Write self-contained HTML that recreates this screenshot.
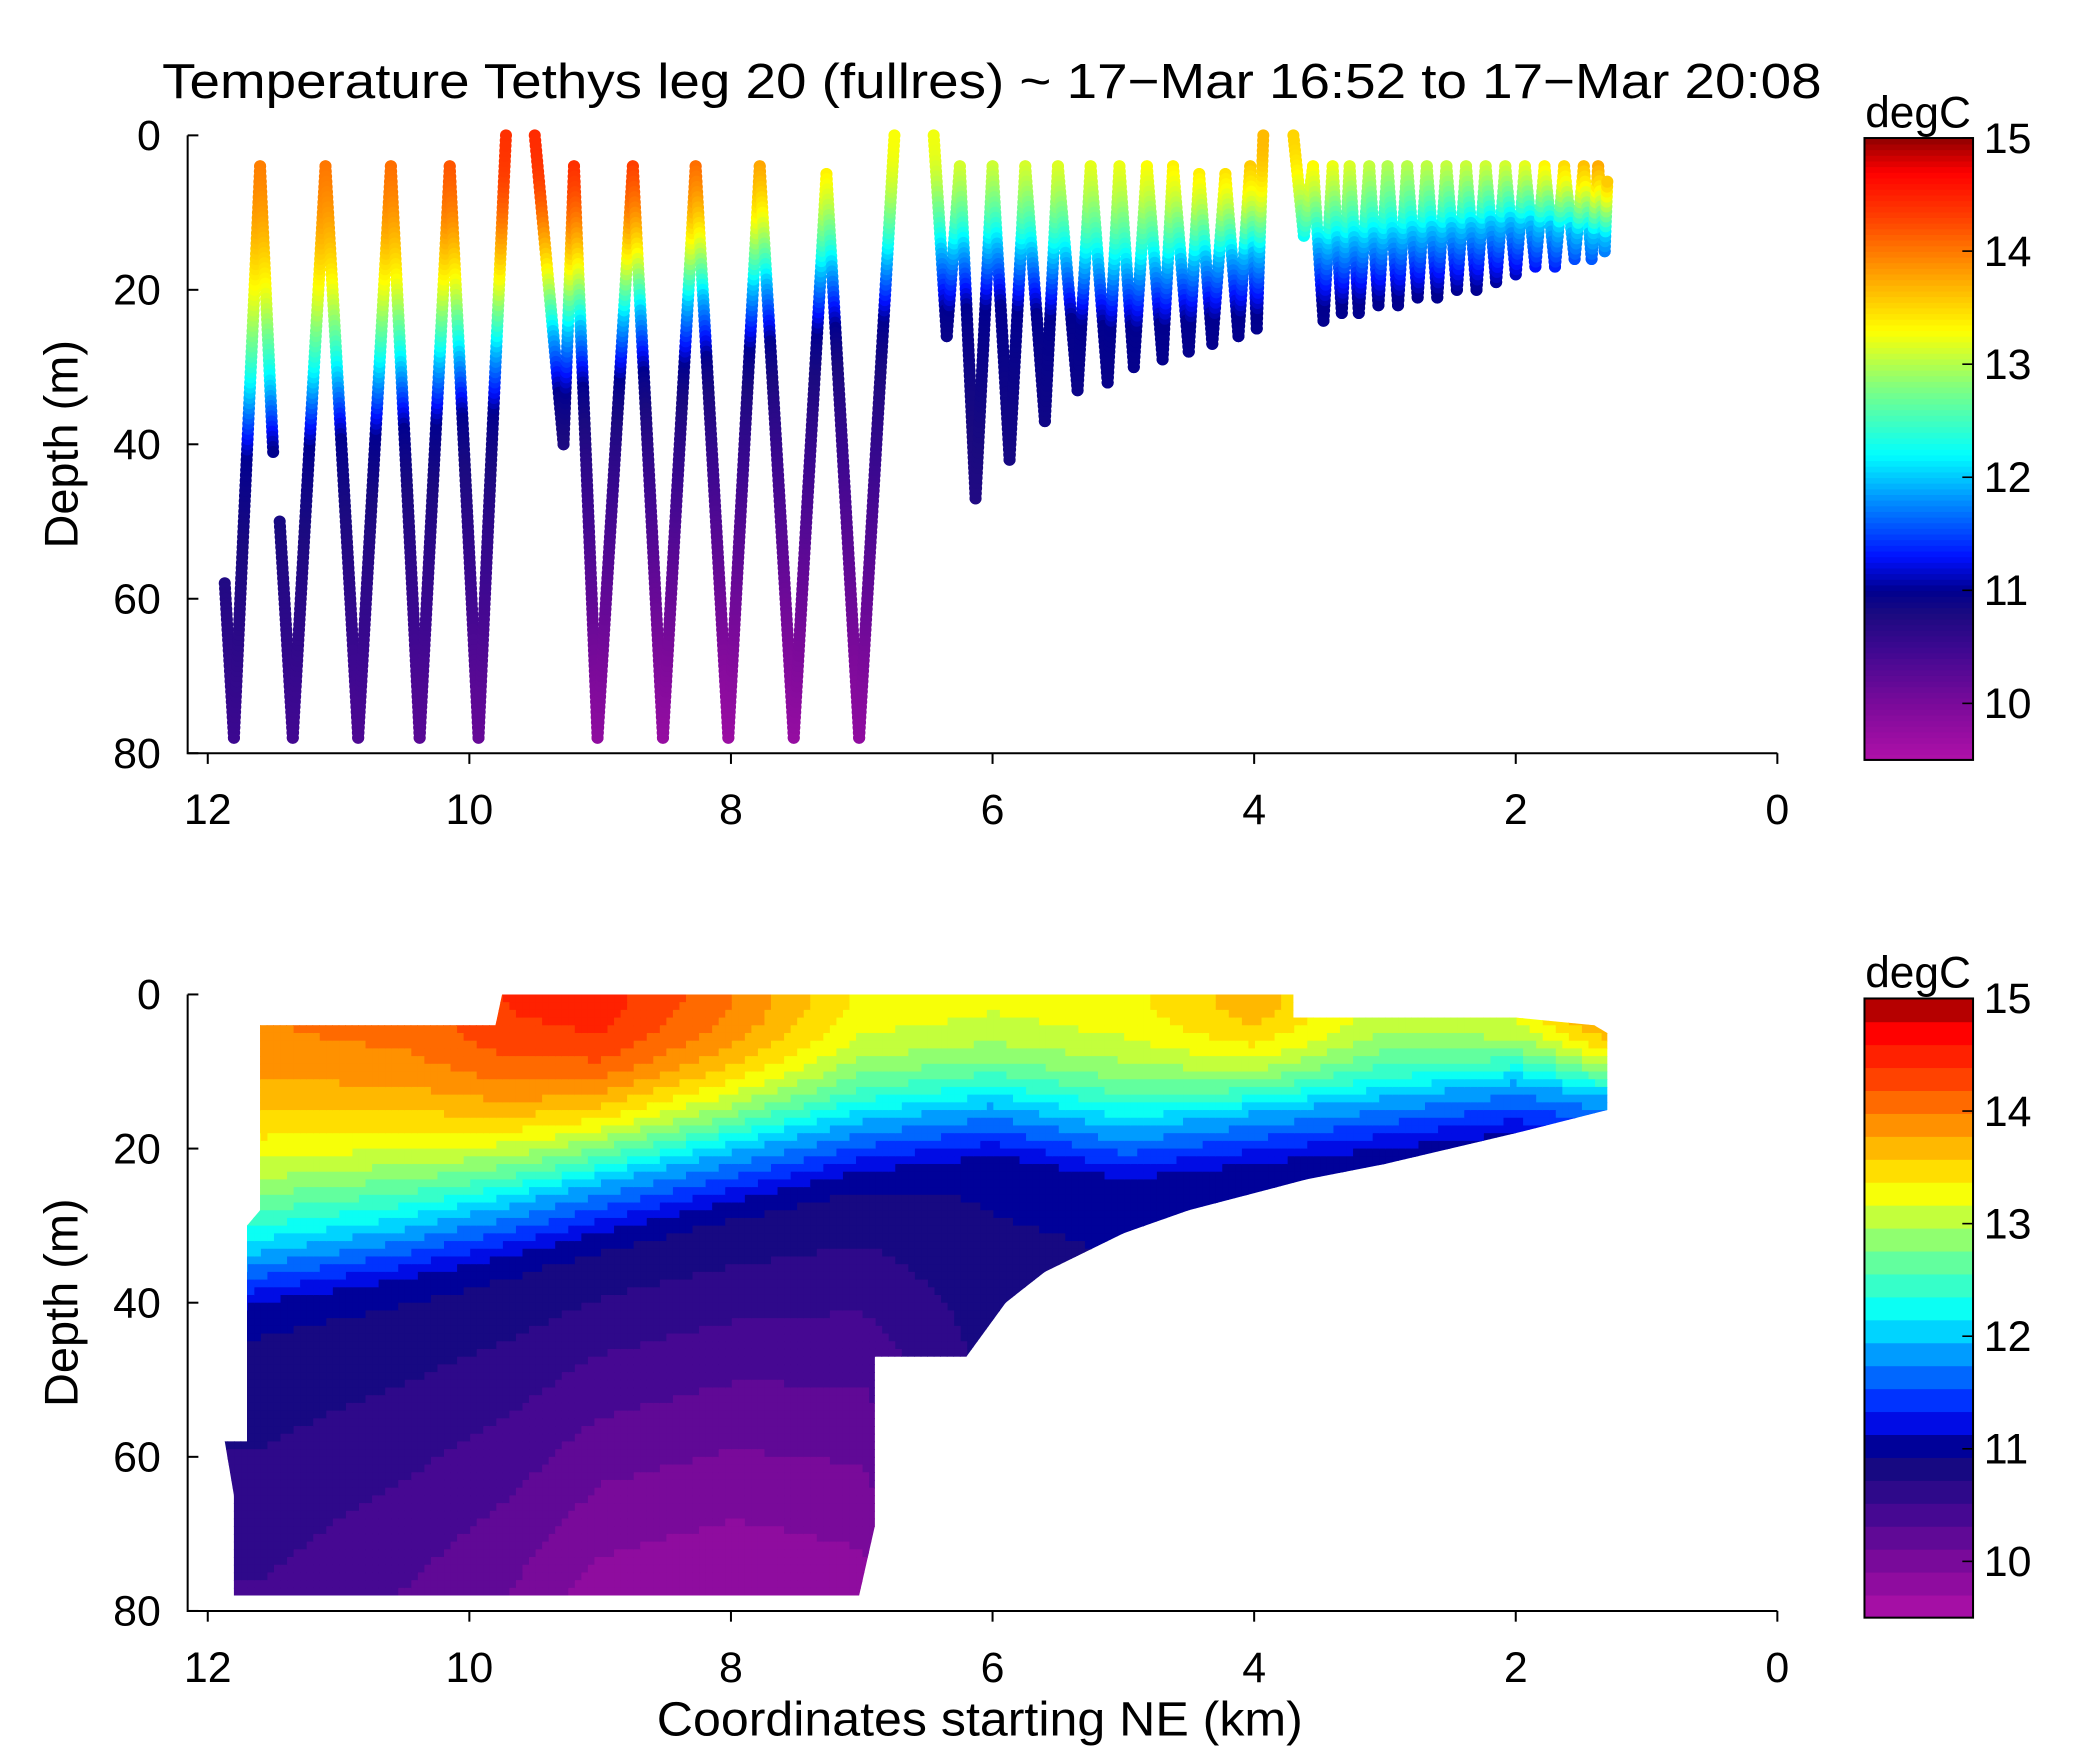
<!DOCTYPE html>
<html><head><meta charset="utf-8"><style>
html,body{margin:0;padding:0;background:#fff}
svg{display:block;font-family:"Liberation Sans",sans-serif}
</style></head><body>
<svg id="fig" width="2091" height="1749" viewBox="0 0 1560 1305" preserveAspectRatio="none">
<defs>
<clipPath id="maskClip"><polygon id="maskPoly"/></clipPath>
</defs>
<text x="740" y="73" font-size="37" text-anchor="middle" textLength="1238" lengthAdjust="spacingAndGlyphs">Temperature Tethys leg 20 (fullres) ~ 17−Mar 16:52 to 17−Mar 20:08</text>
<g id="topPanel"></g>
<g id="botPanel"></g>
<text x="731" y="1295" font-size="36" text-anchor="middle" textLength="482" lengthAdjust="spacingAndGlyphs">Coordinates starting NE (km)</text>
</svg>
<script>
// ---- data ----
const profX=[11.87,11.8,11.6,11.5,null,11.45,11.35,11.1,10.85,10.6,10.38,10.15,9.93,9.72,null,9.5,9.28,9.2,9.02,8.75,8.52,8.27,8.02,7.78,7.52,7.27,7.02,6.75,null,6.45,6.35,6.25,6.13,6.0,5.87,5.75,5.6,5.5,5.35,5.25,5.12,5.03,4.92,4.82,4.7,4.62,4.5,4.42,4.32,4.22,4.12,4.03,3.98,3.93,null,3.7,3.62,3.55,3.47,3.4,3.33,3.27,3.2,3.12,3.05,2.98,2.9,2.83,2.75,2.68,2.6,2.53,2.45,2.38,2.3,2.23,2.15,2.08,2.0,1.93,1.85,1.78,1.7,1.63,1.55,1.48,1.42,1.37,1.32,1.3];
const profD=[58,78,4,41,null,50,78,4,78,4,78,4,78,0,null,0,40,4,78,4,78,4,78,4,78,5,78,0,null,0,26,4,47,4,42,4,37,4,33,4,32,4,30,4,29,4,28,5,27,5,26,4,25,0,null,0,13,4,24,4,23,4,23,4,22,4,22,4,21,4,21,4,20,4,20,4,19,4,18,4,17,4,17,4,16,4,16,4,15,6];
// temperature model arrays
const modelX=[11.8,11.6,10.5,9.7,9,8,7,6,5,4,3,2,1.3];
const surfT=[13.9,14.0,14.1,14.4,14.5,14.0,13.3,13.2,13.3,13.7,13.1,13.3,14.0];
const thermoD=[34,33,30,27,24,20,16,14,17,15,13,11,13];
const deepT=[10.5,10.5,10.3,10.1,9.8,9.7,9.8,10.6,10.7,10.7,10.7,10.7,10.7];
const maskX=[11.6,9.8,9.75,3.7,3.7,2.0,1.4,1.3,1.3,2.0,3.0,3.6,4.5,5.0,5.6,5.9,6.2,6.9,6.9,7.02,11.8,11.8,11.87,11.7,11.7,11.6];
const maskD=[4,4,0,0,3,3,4,5,15,18,22,24,28,31,36,40,47,47,69,78,78,65,58,58,30,28];
const cbVals=[9.5,10,10.5,10.8,11,11.3,11.8,12.2,12.8,13.3,13.8,14.3,14.7,15];
const cbCols=["#b010a8","#7a0a9a","#3c0890","#1a0a80","#00008f","#0010ff","#0090ff","#00ffff","#80ff80","#ffff00","#ffa000","#ff4000","#ff0000","#900000"];
const xTicks=[12,10,8,6,4,2,0];
const yTicks=[0,20,40,60,80];
const cTicks=[10,11,12,13,14,15];
// ---- helpers ----
const NS="http://www.w3.org/2000/svg";
function mk(t,a,p){const e=document.createElementNS(NS,t);for(const k in a)e.setAttribute(k,a[k]);p.appendChild(e);return e;}
function interp(xs,ys,x){if(x>=xs[0])return ys[0];for(let i=1;i<xs.length;i++){if(x>=xs[i]){const t=(x-xs[i-1])/(xs[i]-xs[i-1]);return ys[i-1]+t*(ys[i]-ys[i-1]);}}return ys[ys.length-1];}
function temp(x,d){const s=interp(modelX,surfT,x),th=interp(modelX,thermoD,x),dp=interp(modelX,deepT,x);
 if(d<=th){const t=d/th;return s-(s-12)*Math.pow(t,2.0);}
 if(d<=th+8){return 12-1.0*(d-th)/8;}
 return 11-(11-dp)*Math.min(1,Math.pow((d-th-8)/(78-th-8),0.8));}
function hex(c){return[parseInt(c.substr(1,2),16),parseInt(c.substr(3,2),16),parseInt(c.substr(5,2),16)];}
function cmap(v){v=Math.max(9.5,Math.min(15,v));for(let i=1;i<cbVals.length;i++){if(v<=cbVals[i]){const t=(v-cbVals[i-1])/(cbVals[i]-cbVals[i-1]);const a=hex(cbCols[i-1]),b=hex(cbCols[i]);return "rgb("+a.map((q,j)=>Math.round(q+t*(b[j]-q))).join(",")+")";}}return cbCols[cbCols.length-1];}
function axes(g,y0,y1,cbTop,cbBot,name,discrete){
 const X=v=>1326-v*(1326-155)/12, Y=d=>y0+d*(y1-y0)/80;
 const ax=mk("path",{d:`M140,${y0}V${y1}H1326`,stroke:"#000","stroke-width":1.5,fill:"none"},g);
 
 
 xTicks.forEach(v=>{const l=mk("line",{x1:X(v),x2:X(v),y1:y1,y2:y1+8,stroke:"#000","stroke-width":1.5},g);
  
  
  const t=mk("text",{x:X(v),y:y1+53,"font-size":32,"text-anchor":"middle"},g);t.textContent=v;
  
  });
 yTicks.forEach(v=>{const l=mk("line",{x1:140,x2:148,y1:Y(v),y2:Y(v),stroke:"#000","stroke-width":1.5},g);
  
  
  const t=mk("text",{x:120,y:Y(v)+11,"font-size":32,"text-anchor":"end"},g);t.textContent=v;
  
  });
 const yl=mk("text",{x:0,y:0,"font-size":35,"text-anchor":"middle",transform:`translate(58,${(y0+y1)/2}) rotate(-90)`},g);yl.textContent="Depth (m)";
 
 
 const CY=v=>cbBot-(v-9.5)*(cbBot-cbTop)/5.5;
 const cb=mk("g",{},g);
 
 
 const n=discrete?27:110;
 for(let i=0;i<n;i++){const v0=9.5+5.5*i/n,v1=9.5+5.5*(i+1)/n;
  const r=mk("rect",{x:1391,y:CY(v1),width:81,height:CY(v0)-CY(v1)+0.6,fill:cmap((v0+v1)/2)},cb);
  
  }
 const fr=mk("rect",{x:1391,y:cbTop,width:81,height:cbBot-cbTop,fill:"none",stroke:"#000","stroke-width":1.5},cb);
 
 
 cTicks.forEach(v=>{const l=mk("line",{x1:1464,x2:1472,y1:CY(v),y2:CY(v),stroke:"#000","stroke-width":1.2},cb);
  
  
  const t=mk("text",{x:1480,y:CY(v)+11,"font-size":32},cb);t.textContent=v;
  
  });
 const u=mk("text",{x:1431,y:cbTop-8,"font-size":33,"text-anchor":"middle"},cb);u.textContent="degC";
 
 
 return {X,Y};
}
// ---- top panel ----
const topG=document.getElementById("topPanel");
const TA=axes(topG,101,562,103,567,"top",false);
const tr=mk("g",{},topG);


for(let i=1;i<profX.length;i++){
 if(profX[i]===null||profX[i-1]===null)continue;
 const xa=profX[i-1],da=profD[i-1],xb=profX[i],db=profD[i];
 const n=Math.max(8,Math.ceil(Math.abs(db-da)*1.5));
 for(let k=0;k<=n;k++){const t=k/n,x=xa+(xb-xa)*t,d=da+(db-da)*t;
  const c=mk("circle",{cx:TA.X(x),cy:TA.Y(d),r:4.5,fill:cmap(temp(x,d))},tr);
  
  }
}
// ---- bottom panel ----
const botG=document.getElementById("botPanel");
const BA=axes(botG,742,1202,745,1207,"bottom",true);
document.getElementById("maskPoly").setAttribute("points",maskX.map((x,i)=>BA.X(x)+","+BA.Y(maskD[i])).join(" "));
const cf=mk("g",{"clip-path":"url(#maskClip)"},botG);


const dx=0.05,dd=1;
for(let x=1.3;x<11.9;x+=dx){for(let d=0;d<78;d+=dd){
 const v=temp(x+dx/2,d+dd/2);const q=9.5+Math.floor((v-9.5)/(5.5/27))*(5.5/27)+5.5/54;
 const r=mk("rect",{x:BA.X(x+dx),y:BA.Y(d),width:BA.X(x)-BA.X(x+dx)+0.6,height:BA.Y(d+dd)-BA.Y(d)+0.6,fill:cmap(q)},cf);
 
 }}
</script>
</body></html>
